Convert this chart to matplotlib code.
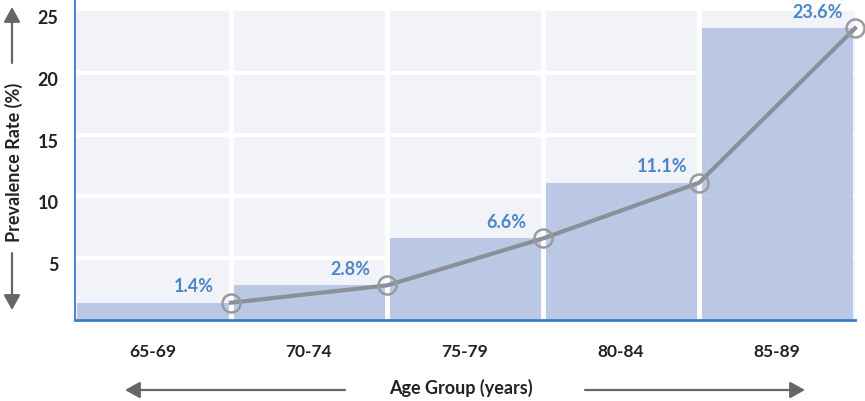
import numpy as np
import matplotlib.pyplot as plt
from matplotlib.lines import Line2D
from matplotlib.transforms import ScaledTranslation

plt.rcParams['font.family'] = ['Lato', 'DejaVu Sans']

# Ikäryhmät ja esiintyvyys (%)
age_groups = ['65-69', '70-74', '75-79', '80-84', '85-89']
prevalence = [1.4, 2.8, 6.6, 11.1, 23.6]
y_ticks = [5, 10, 15, 20, 25]

fig = plt.figure(figsize=(8.65, 4.01), dpi=100)
W, H = 865, 401
ax = fig.add_axes([75 / W, (H - 320) / H, 780 / W, (320 - 11) / H])
ax.set_facecolor('#F2F3F8')

x = np.arange(len(age_groups))

# Pylväät ja vaakaviivat
for yv in y_ticks[:-1]:
    ax.axhline(yv, color='white', lw=3, zorder=1)
ax.bar(x, prevalence, width=0.975, color='#B4C3E3', alpha=0.9, zorder=2)
for xv in x[:-1] + 0.5:
    ax.axvline(xv, color='white', lw=3.5, zorder=3)

# Viiva pylväiden oikeisiin reunoihin
xe = x + 0.5
ax.plot(xe, prevalence, color='#8A9099', lw=3, zorder=4, clip_on=False)
ax.plot(xe, prevalence, ls='none', marker='o', ms=13, mfc='none',
        mec='#9A9A9A', mew=1.8, zorder=5, clip_on=False)

for xi, v in zip(xe, prevalence):
    ax.annotate(f'{v}%', (xi, v), xytext=(-37, 16), textcoords='offset pixels',
                ha='center', va='center', color='#4A86C8', fontsize=13,
                fontweight='bold', zorder=6)

ax.set_xlim(-0.5, 4.5)
ax.set_ylim(0, 25)
ax.set_xticks(x)
ax.set_xticklabels(age_groups, fontsize=12.5, fontweight='bold', color='#222222')
ax.set_yticks(y_ticks)
ax.set_yticklabels([str(t) for t in y_ticks], fontsize=13, fontweight='bold',
                   color='#222222')
ax.tick_params(axis='x', length=0, pad=17)
ax.tick_params(axis='y', length=0, pad=12)
off = ScaledTranslation(0, -6 / 100, fig.dpi_scale_trans)
for lab in ax.get_yticklabels():
    lab.set_transform(lab.get_transform() + off)

for s in ['top', 'right', 'left']:
    ax.spines[s].set_visible(False)
ax.spines['bottom'].set_color('#3D7CC9')
ax.spines['bottom'].set_linewidth(2)
ax.spines['bottom'].set_zorder(7)
# vasen reunaviiva kuvan yläreunaan asti
fig.add_artist(Line2D([75 / W, 75 / W], [1 - 320 / H, 1], color='#3D7CC9',
                      lw=1.3, zorder=7))

# Akseliotsikot nuolineen
arrow = dict(arrowstyle='-|>,head_length=0.9,head_width=0.5', color='#666666',
             lw=1.6, shrinkA=0, shrinkB=0)
fig.text(14 / W, 1 - 162 / H, 'Prevalence Rate (%)', rotation=90, ha='center',
         va='center', fontsize=13, fontweight='bold', color='#222222')
fig.text(461 / W, 1 - 388 / H, 'Age Group (years)', ha='center', va='center',
         fontsize=13, fontweight='bold', color='#222222')
for (x0, y0), (x1, y1) in [((12, 63), (12, 7)), ((12, 253), (12, 310)),
                           ((345, 390), (125, 390)), ((585, 390), (805, 390))]:
    fig.add_artist(plt.Annotation('', xy=(x1 / W, 1 - y1 / H),
                                  xytext=(x0 / W, 1 - y0 / H),
                                  xycoords='figure fraction',
                                  arrowprops=arrow))

fig.savefig('out.png', dpi=100)
